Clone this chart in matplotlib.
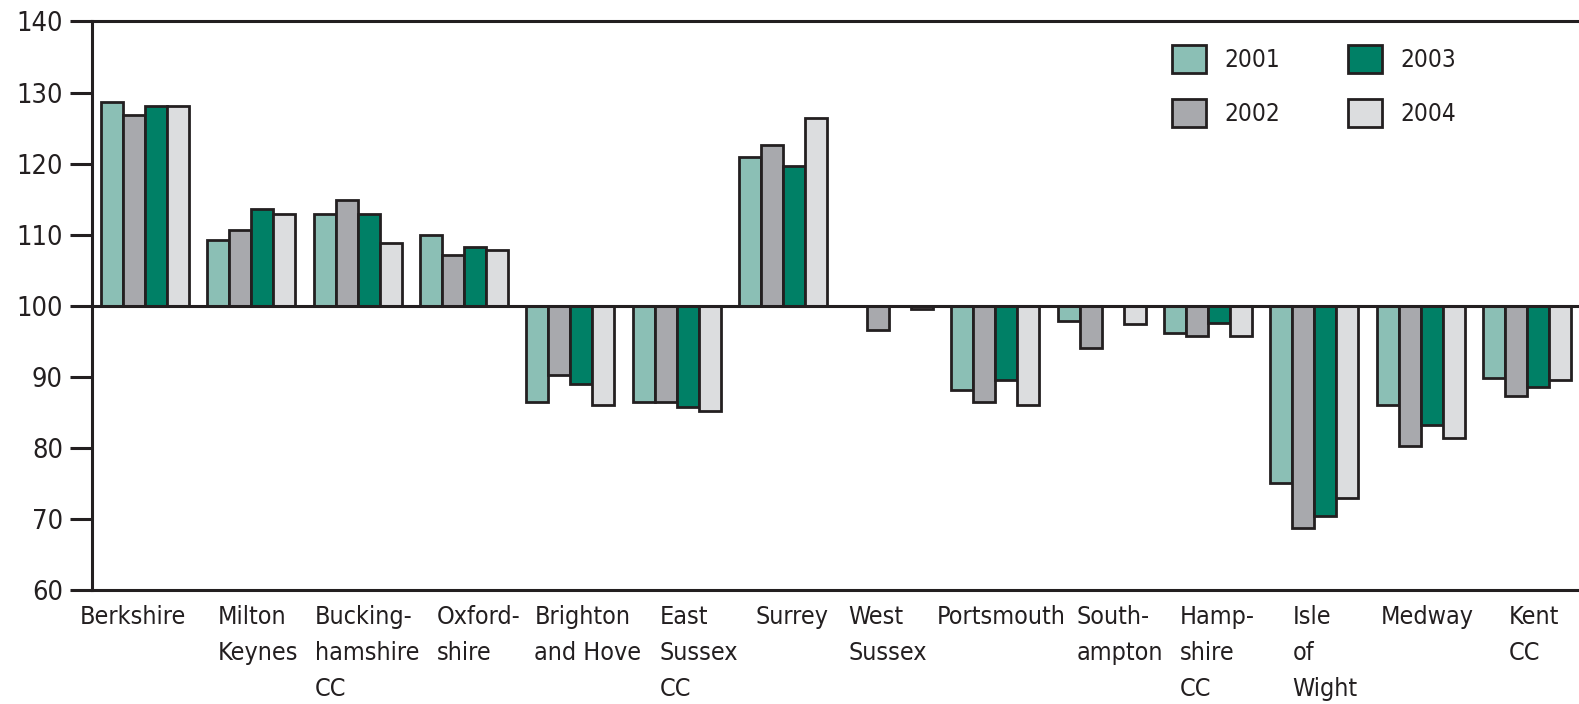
import matplotlib.pyplot as plt
import matplotlib as mpl
from matplotlib import font_manager
from matplotlib.transforms import ScaledTranslation, blended_transform_factory
import numpy as np

# use a condensed face if one is installed, otherwise a smaller Liberation Sans
fonts = [f.fname for f in font_manager.fontManager.ttflist]
if any('LiberationSansNarrow-Regular' in p for p in fonts):
    FAMILY, STRETCH, XSIZE, YSIZE, LSIZE = ['Liberation Sans Narrow'], 'normal', 21, 22, 20
elif any('DejaVuSansCondensed.ttf' in p for p in fonts):
    FAMILY, STRETCH, XSIZE, YSIZE, LSIZE = ['DejaVu Sans'], 'condensed', 18, 19.5, 17.5
else:
    FAMILY, STRETCH, XSIZE, YSIZE, LSIZE = ['Liberation Sans'], 'normal', 17, 19, 18

mpl.rcParams.update({
    'font.family': FAMILY + ['DejaVu Sans'],
    'font.stretch': STRETCH,
    'text.color': '#231f20',
    'axes.edgecolor': '#231f20',
    'xtick.color': '#231f20',
    'ytick.color': '#231f20',
})

regions = ['Berkshire', 'Milton\nKeynes', 'Bucking-\nhamshire\nCC', 'Oxford-\nshire',
           'Brighton\nand Hove', 'East\nSussex\nCC', 'Surrey', 'West\nSussex',
           'Portsmouth', 'South-\nampton', 'Hamp-\nshire\nCC', 'Isle\nof\nWight',
           'Medway', 'Kent\nCC']
years = ['2001', '2002', '2003', '2004']
v2001 = [128.6, 109.2, 112.9, 109.9, 86.5, 86.5, 120.9, 100.0, 88.2, 97.9, 96.2, 75.1, 86.1, 89.8]
v2002 = [126.9, 110.7, 114.9, 107.1, 90.3, 86.5, 122.6, 96.6, 86.5, 94.0, 95.8, 68.7, 80.2, 87.3]
v2003 = [128.1, 113.6, 112.9, 108.3, 89.0, 85.7, 119.6, 100.0, 89.5, 100.0, 97.6, 70.4, 83.2, 88.6]
v2004 = [128.1, 112.9, 108.8, 107.9, 86.1, 85.2, 126.4, 99.6, 86.1, 97.5, 95.8, 72.9, 81.4, 89.5]
series = [v2001, v2002, v2003, v2004]
colors = ['#8bbfb5', '#a8a9ad', '#008066', '#dcdddf']
EDGE = '#231f20'

# left edge of each category label relative to the group centre (pixels)
label_dx = [-65, -34, -43, -27, -36, -17, -27, -41, -59, -25, -28, -22, -40, -18]

fig = plt.figure(figsize=(15.79, 7.04), dpi=100)
ax = fig.add_axes([0.0583, 0.1619, 0.9423, 0.8076])

x = np.arange(len(regions))
w = 0.207
for i, (vals, col, yr) in enumerate(zip(series, colors, years)):
    vals = np.array(vals)
    ax.bar(x - 1.5 * w + i * w, vals - 100, bottom=100, width=w, color=col,
           edgecolor=EDGE, linewidth=2.0, label=yr, zorder=2)

ax.axhline(100, color=EDGE, linewidth=2.2, zorder=3)
ax.set_xlim(-0.5, 13.5)
ax.set_ylim(60, 140)
ax.set_yticks(range(60, 141, 10))
ax.tick_params(axis='y', length=16, width=2.2, pad=5, labelsize=YSIZE)
ax.set_xticks([])

base = blended_transform_factory(ax.transData, ax.transAxes)
for xi, lab, dx in zip(x, regions, label_dx):
    tr = base + ScaledTranslation(dx / 100, -15 / 100, fig.dpi_scale_trans)
    ax.text(xi, 0, lab, transform=tr, ha='left', va='top', fontsize=XSIZE,
            linespacing=1.62, clip_on=False)

ax.spines['right'].set_visible(False)
for s in ['left', 'top', 'bottom']:
    ax.spines[s].set_linewidth(2.2)

ax.legend(loc='upper left', bbox_to_anchor=(1172 / 1579, 1 - 45 / 704),
          bbox_transform=fig.transFigure, ncol=2, frameon=False,
          fontsize=LSIZE, handlelength=1.4, handleheight=1.4,
          handletextpad=0.75, columnspacing=2.8, labelspacing=1.05,
          borderpad=0, borderaxespad=0)

fig.savefig('out.png', dpi=100)
